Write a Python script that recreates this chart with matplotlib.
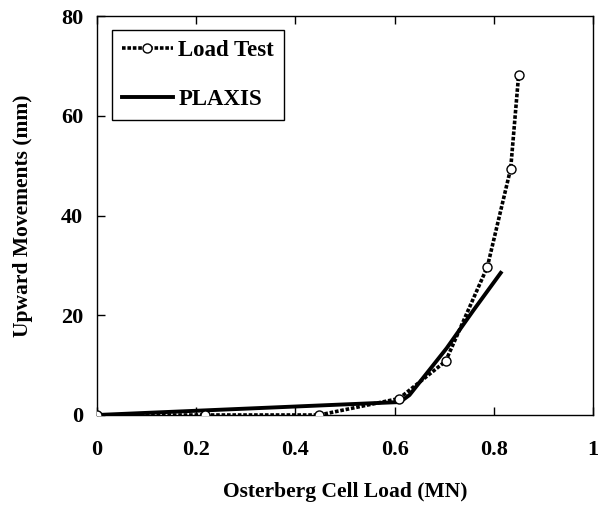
import matplotlib
matplotlib.use("Agg")
import matplotlib.pyplot as plt

load_test_x = [0.0, 0.218, 0.448, 0.609, 0.703, 0.787, 0.834, 0.850]
load_test_y = [0.0, 0.0, 0.0, 3.3, 10.8, 29.7, 49.4, 68.1]

plaxis_x = [0.0, 0.611, 0.63, 0.705, 0.759, 0.814]
plaxis_y = [0.0, 2.6, 4.0, 13.4, 21.0, 28.5]

xticks = [0, 0.2, 0.4, 0.6, 0.8, 1]
xtick_labels = ["0", "0.2", "0.4", "0.6", "0.8", "1"]
yticks = [0, 20, 40, 60, 80]
ytick_labels = ["0", "20", "40", "60", "80"]

plt.rcParams['font.family'] = ['Liberation Serif', 'DejaVu Serif']
plt.rcParams['font.weight'] = 'bold'

fig = plt.figure(figsize=(5.98, 5.09), dpi=100)
ax = fig.add_axes([97/598, 1-415/509, 496/598, 399/509])

ax.plot(load_test_x, load_test_y, color='black', linestyle=(0, (1.0, 0.5)), linewidth=2.6,
        marker='o', markersize=6.5, markerfacecolor='white', markeredgecolor='black',
        markeredgewidth=1.0, label='Load Test', zorder=3)
ax.plot(plaxis_x, plaxis_y, color='black', linestyle='-', linewidth=2.8, label='PLAXIS', zorder=2)

ax.set_xlim(0, 1)
ax.set_ylim(0, 80)
ax.set_xticks(xticks)
ax.set_xticklabels(xtick_labels)
ax.set_yticks(yticks)
ax.set_yticklabels(ytick_labels)
ax.tick_params(axis='both', direction='in', labelsize=16, length=6, width=1,
               top=True, right=False)
ax.tick_params(axis='x', pad=18)
ax.tick_params(axis='y', pad=10)
for lab in ax.get_xticklabels() + ax.get_yticklabels():
    lab.set_fontweight('bold')
for s in ax.spines.values():
    s.set_linewidth(1.0)

ax.set_xlabel('Osterberg Cell Load (MN)', fontsize=15.5, fontweight='bold', labelpad=16)
ax.set_ylabel('Upward Movements (mm)', fontsize=15.5, fontweight='bold', labelpad=20)

leg = ax.legend(loc='upper left', bbox_to_anchor=(0.030, 0.965), fontsize=16.5,
                frameon=True, fancybox=False, edgecolor='black', framealpha=1,
                handlelength=2.2, handletextpad=0.25, labelspacing=1.2,
                borderpad=0.45, borderaxespad=0)
leg.get_frame().set_linewidth(1.0)
for t in leg.get_texts():
    t.set_fontweight('bold')

fig.savefig('out.png', dpi=100)
